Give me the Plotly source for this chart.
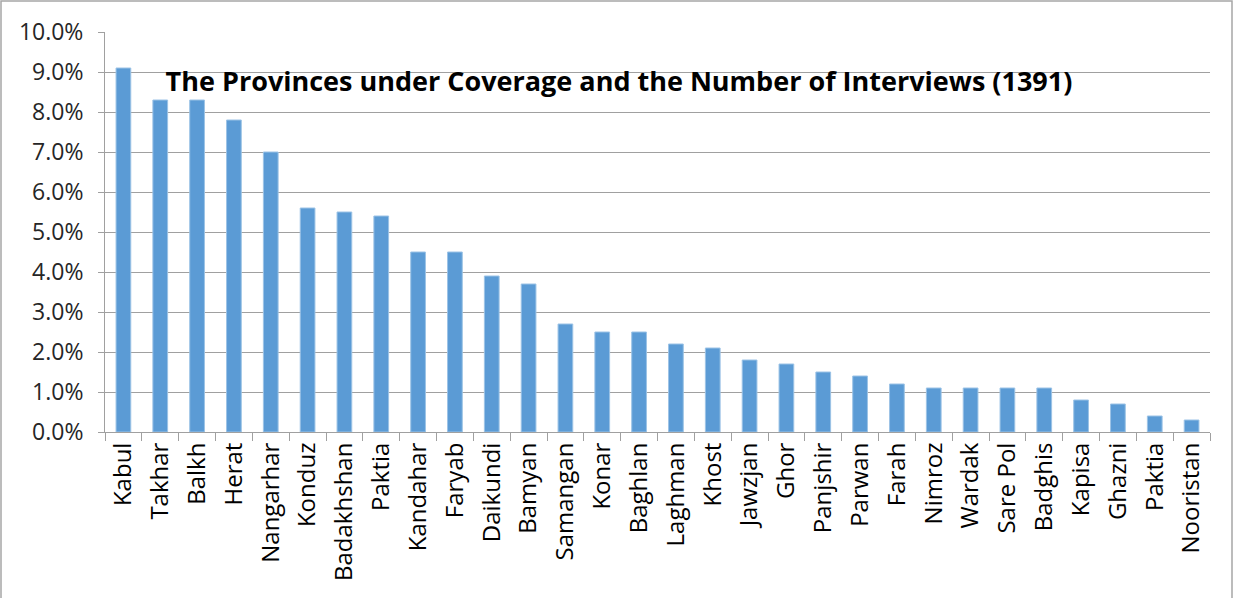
import plotly.graph_objects as go

provinces = ["Kabul", "Takhar", "Balkh", "Herat", "Nangarhar", "Konduz", "Badakhshan",
             "Paktia", "Kandahar", "Faryab", "Daikundi", "Bamyan", "Samangan", "Konar",
             "Baghlan", "Laghman", "Khost", "Jawzjan", "Ghor", "Panjshir", "Parwan",
             "Farah", "Nimroz", "Wardak", "Sare Pol", "Badghis", "Kapisa", "Ghazni",
             "Paktia", "Nooristan"]
share_pct = [9.1, 8.3, 8.3, 7.8, 7.0, 5.6, 5.5, 5.4, 4.5, 4.5, 3.9, 3.7, 2.7, 2.5,
             2.5, 2.2, 2.1, 1.8, 1.7, 1.5, 1.4, 1.2, 1.1, 1.1, 1.1, 1.1, 0.8, 0.7,
             0.4, 0.3]
title_text = "The Provinces under Coverage and the Number of Interviews (1391)"

positions = list(range(len(provinces)))
shares = [v / 100 for v in share_pct]
boundaries = [p - 0.5 for p in positions] + [positions[-1] + 0.5]

W, H = 1238, 598
L, R, T, B = 105, 28, 32, 166
pw, ph = W - L - R, H - T - B

fig = go.Figure(go.Bar(
    x=positions, y=shares,
    marker=dict(color="#5B9BD5", line=dict(color="#9CC3E6", width=1)),
    width=0.4,
))

axis_grey = "#A0A0A0"
font_family = "Open Sans, Lato, sans-serif"

fig.update_layout(
    width=W, height=H,
    margin=dict(l=L, r=R, t=T, b=B),
    paper_bgcolor="white", plot_bgcolor="white",
    showlegend=False,
    font=dict(family=font_family, color="#262626"),
    title=dict(text="<b>" + title_text + "</b>",
               x=0.5, xref="container", xanchor="center",
               y=1 - 82 / H, yref="container", yanchor="middle",
               font=dict(size=27, color="black", family=font_family)),
    xaxis=dict(
        range=[-0.5, len(provinces) - 0.5],
        tickmode="array", tickvals=positions, ticktext=provinces,
        tickangle=-90, ticks="", ticklen=0,
        tickfont=dict(size=24, color="black"),
        showgrid=False, zeroline=False,
        showline=True, linecolor=axis_grey, linewidth=1,
        minor=dict(tickmode="array", tickvals=boundaries, ticks="outside",
                   ticklen=8, tickcolor=axis_grey, tickwidth=1, showgrid=False),
    ),
    yaxis=dict(
        range=[0, 0.1], dtick=0.01, tick0=0, tickformat=".1%",
        ticks="outside", ticklen=6, tickcolor=axis_grey,
        ticklabelstandoff=10,
        tickfont=dict(size=23, color="#262626"),
        showgrid=True, gridcolor=axis_grey, gridwidth=1,
        zeroline=False, showline=True, linecolor=axis_grey, linewidth=1,
    ),
    shapes=[dict(type="rect", xref="paper", yref="paper",
                 x0=(1 - L) / pw, x1=(1232 - L) / pw,
                 y0=-(H + 10 - T - ph) / ph, y1=(H - 1 - B) / ph,
                 line=dict(color="#A6A6A6", width=1.5), layer="below")],
)

fig.write_html("out.html")
